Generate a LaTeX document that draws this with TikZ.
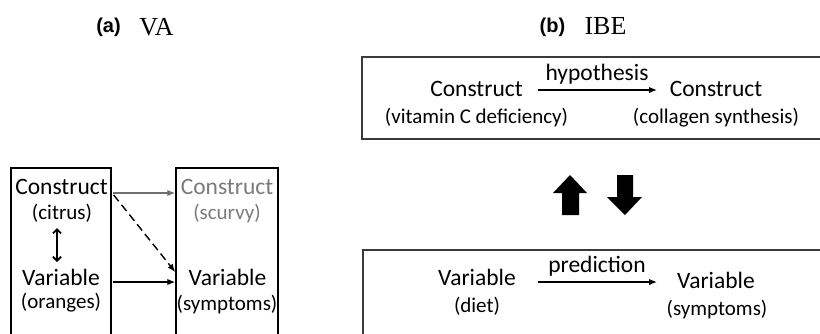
\documentclass[tikz,border=0pt]{standalone}
\usepackage{fontspec}
\setmainfont{Carlito}
\newfontfamily\lsans{Liberation Sans}
\newfontfamily\lserif{Liberation Serif}
\usetikzlibrary{arrows.meta}
\definecolor{boxgray}{HTML}{3A3A3A}
\definecolor{lightg}{HTML}{7A7A7A}
\definecolor{arrg}{HTML}{6E6E6E}
\begin{document}
\begin{tikzpicture}[x=1pt,y=-1pt,
  lbl/.style={anchor=base,inner sep=0pt,font=\fontsize{23.5}{28}\selectfont},
  sub/.style={anchor=base,inner sep=0pt,font=\fontsize{21}{25}\selectfont},
  panel/.style={font=\lsans\bfseries\fontsize{20}{24}\selectfont,anchor=base,inner sep=0pt},
  ttl/.style={font=\lserif\fontsize{26}{30}\selectfont,anchor=base,inner sep=0pt},
  lbox/.style={draw=black,line width=1.5pt,inner sep=0pt},
  rbox/.style={draw=boxgray,line width=2pt,inner sep=0pt},
  arr/.style={line width=1.4pt,-{Latex[length=8pt,width=6.5pt]}},
  dbl/.style={line width=1.8pt,{Straight Barb[length=4pt,width=8pt]}-{Straight Barb[length=4pt,width=8pt]}},
  blk/.style={fill=black,draw=none}]
\useasboundingbox (0,0) rectangle (820,333);

% titles
\node[panel] (pa) at (108.5,32) {(a)};
\node[ttl] (va) at (156.5,35) {VA};
\node[panel] (pb) at (552.5,32) {(b)};
\node[ttl] (ibe) at (605.5,34) {IBE};

% ---------- panel (a) ----------
\node[lbox,minimum width=100pt,minimum height=200pt] (L) at (61,268) {};
\node[lbox,minimum width=102pt,minimum height=200pt] (R) at (227,268) {};

\node[lbl] (lc) at (61.5,194) {Construct};
\node[sub] (lcs) at (62,219) {(citrus)};
\node[lbl] (lv) at (61,285) {Variable};
\node[sub] (lvs) at (61,308) {(oranges)};

\node[lbl,text=lightg] (rc) at (227,194) {Construct};
\node[sub,text=lightg] (rcs) at (227,219) {(scurvy)};
\node[lbl] (rv) at (227.5,285) {Variable};
\node[sub] (rvs) at (227,310) {(symptoms)};

\coordinate (dA) at (57,228);
\coordinate (dB) at (57,262);
\draw[dbl] (dA) -- (dB);

\draw[arr,draw=arrg,color=arrg] ([xshift=1pt]L.east |- 0,193) -- (R.west |- 0,193);
\draw[arr,dashed,dash pattern=on 8pt off 4.5pt] ([xshift=2pt]L.east |- 0,195) -- (R.west |- 0,272);
\draw[arr] ([xshift=1pt]L.east |- 0,282) -- (R.west |- 0,282);

% ---------- panel (b) ----------
\node[rbox,minimum width=468pt,minimum height=82pt] (T) at (596,98) {};
\node[rbox,minimum width=467pt,minimum height=160pt] (B) at (596.5,330) {};

\node[lbl] (tc1) at (476.5,96) {Construct};
\node[sub] (tc1s) at (476.5,123) {(vitamin C deficiency)};
\node[lbl] (tc2) at (716,96) {Construct};
\node[sub] (tc2s) at (716,123) {(collagen synthesis)};
\node[lbl] (hyp) at (597,80) {hypothesis};
\draw[arr] (T.west -| 538,0) ++(0,-8) coordinate (h1) -- (h1 -| 657,0);

\node[lbl] (bv1) at (477,285) {Variable};
\node[sub] (bv1s) at (477,312) {(diet)};
\node[lbl] (bv2) at (716,288) {Variable};
\node[sub] (bv2s) at (717,315) {(symptoms)};
\node[lbl] (pred) at (597,272) {prediction};
\coordinate (p1) at (538,282);
\coordinate (p2) at (657,282);
\draw[arr] (p1) -- (p2);

% block arrows
\fill[blk] (570,175) -- (587,193) -- (579,193) -- (579,215) -- (562,215) -- (562,193) -- (553,193) -- cycle;
\fill[blk] (617,175) -- (633,175) -- (633,197) -- (642,197) -- (625,215) -- (607,197) -- (617,197) -- cycle;
\end{tikzpicture}
\end{document}
